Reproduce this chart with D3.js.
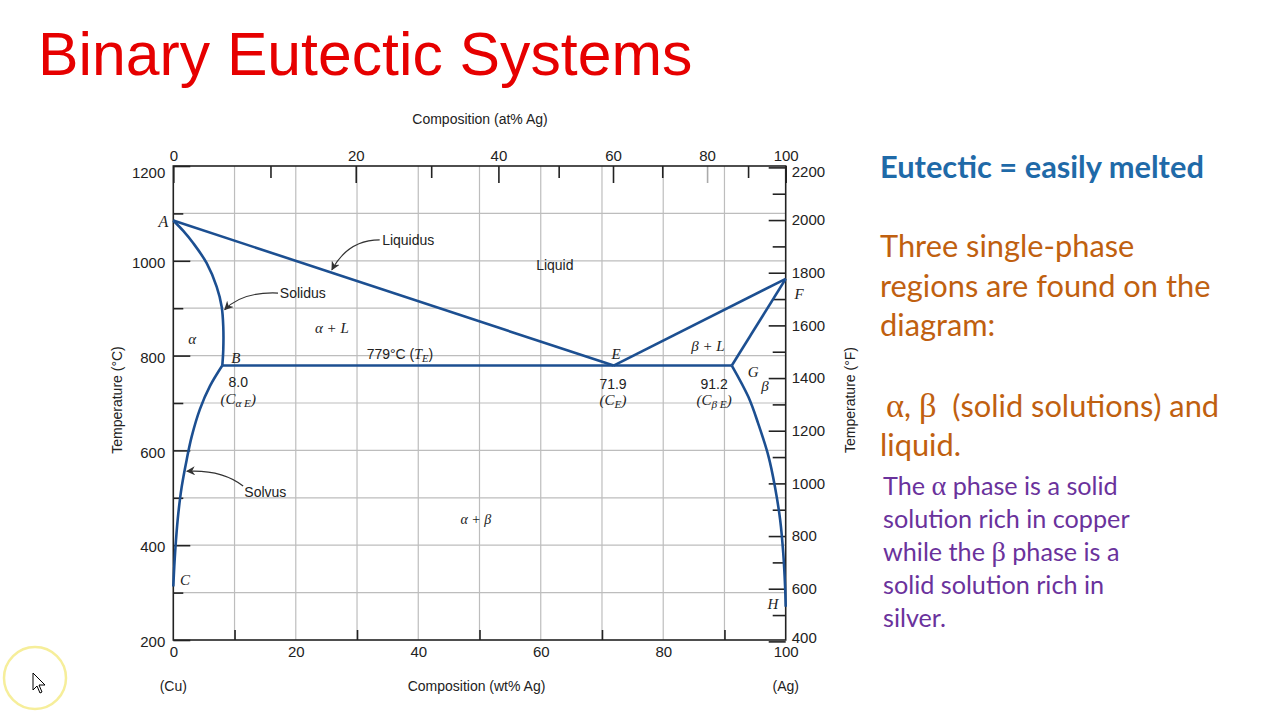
<!DOCTYPE html>
<html>
<head>
<meta charset="utf-8">
<script src="https://cdn.jsdelivr.net/npm/d3@7"></script>
<style>
  body { margin: 0; background: #fff; }
  svg { display: block; }
</style>
</head>
<body>
<script>
// phase boundaries, [wt% Ag, temperature °C]
const liquidusAlpha = [[0, 1085], [71.9, 779]];
const liquidusBeta = [[71.9, 779], [100, 962]];
const solidusAlpha = [[0, 1085], [1.63, 1063], [3.27, 1037], [5.45, 995], [7.09, 945], [7.9, 903],
  [8.16, 861], [8.16, 812], [8.0, 779]];
const solvusAlpha = [[8.0, 779], [6.0, 736], [4.35, 687], [3.0, 629], [2.18, 580], [1.37, 523],
  [0.82, 467], [0.44, 411], [0.16, 355], [0.0, 313]];
const solidusBeta = [[91.2, 779], [100, 962]];
const solvusBeta = [[91.2, 779], [93.9, 713], [95.5, 657], [97.2, 587], [98.25, 523], [99.1, 453],
  [99.6, 383], [99.9, 313], [100, 270]];
const eutectic = [[8.0, 779], [91.2, 779]];

// axis ticks
const wtLabels = [0, 20, 40, 60, 80, 100];
const wtMinor = [10, 30, 50, 70, 90];
const atMajor = [0, 20, 40, 60, 80, 100];
const atMinor = [10, 30, 50, 70, 90];
const tempCLabels = [200, 400, 600, 800, 1000, 1200];
const tempCMinor = [300, 500, 700, 900, 1100];
const tempFLabels = [400, 600, 800, 1000, 1200, 1400, 1600, 1800, 2000, 2200];
const tempFMinor = [500, 700, 900, 1100, 1300, 1500, 1700, 1900, 2100];

const noteLines1 = ['Three single-phase', 'regions are found on the', 'diagram:'];
const noteLines3 = ['The \u03b1 phase is a solid', 'solution rich in copper', 'while the \u03b2 phase is a',
  'solid solution rich in', 'silver.'];

const width = 1280, height = 720;
const blue = '#1c4f91';
const sans = '"Liberation Sans", Arial, sans-serif';
const serif = '"Liberation Serif", "Times New Roman", serif';

const svg = d3.select('body').append('svg')
  .attr('width', width)
  .attr('height', height);

svg.append('rect').attr('width', width).attr('height', height).attr('fill', '#fff');

// title
svg.append('text')
  .attr('x', 38).attr('y', 75)
  .attr('font-family', sans)
  .attr('font-size', 60.7)
  .attr('fill', '#e60000')
  .text('Binary Eutectic Systems');

// scales
let x = d3.scaleLinear().domain([0, 100]).range([173.3, 785.7]);
let y = d3.scaleLinear().domain([200, 1200]).range([640, 166]);
// °F axis shares the °C range
let yF = d3.scaleLinear().domain([200 * 9 / 5 + 32, 1200 * 9 / 5 + 32]).range([643.5, 169.5]);
// at% Ag -> wt% Ag (Ag 107.87, Cu 63.55)
const atToWt = a => 100 * a * 107.87 / (a * 107.87 + (100 - a) * 63.55);

let plot = svg.append('g');

//grid
plot.append('g')
  .selectAll('line')
  .data(d3.range(10, 100, 10))
  .join('line')
  .attr('x1', d => x(d)).attr('x2', d => x(d))
  .attr('y1', y(200)).attr('y2', y(1200))
  .attr('stroke', '#bdbdbd').attr('stroke-width', 1.2);

plot.append('g')
  .selectAll('line')
  .data(d3.range(300, 1200, 100))
  .join('line')
  .attr('x1', x(0)).attr('x2', x(100))
  .attr('y1', d => y(d)).attr('y2', d => y(d))
  .attr('stroke', '#bdbdbd').attr('stroke-width', 1.2);

function styleAxis(g) {
  g.select('.domain').remove();
  g.selectAll('line').attr('stroke', '#222').attr('stroke-width', 1.6);
  g.selectAll('text').attr('font-family', sans).attr('font-size', 15).attr('fill', '#222');
}
const fmt = d3.format('d');

//left axis (°C)
plot.append('g').attr('transform', `translate(${x(0)},0)`)
  .call(d3.axisLeft(y).tickValues(tempCLabels).tickSize(-17).tickPadding(8).tickFormat(fmt))
  .call(styleAxis)
  .call(g => g.selectAll('.tick text').attr('dy', d => d === 1200 ? '0.75em' : '0.45em'));
plot.append('g').attr('transform', `translate(${x(0)},0)`)
  .call(d3.axisLeft(y).tickValues(tempCMinor).tickSize(-10).tickFormat(''))
  .call(styleAxis);

//right axis (°F)
plot.append('g').attr('transform', `translate(${x(100)},0)`)
  .call(d3.axisRight(yF).tickValues(tempFLabels).tickSize(-17).tickPadding(6).tickFormat(fmt))
  .call(styleAxis)
  .call(g => g.selectAll('.tick').filter(d => d === 2200).select('text').attr('dy', '0.6em'))
  .call(g => g.selectAll('.tick').filter(d => d === 400).select('text').attr('dy', '0.05em'));
plot.append('g').attr('transform', `translate(${x(100)},0)`)
  .call(d3.axisRight(yF).tickValues(tempFMinor).tickSize(-13).tickFormat(''))
  .call(styleAxis);

//bottom axis (wt%)
plot.append('g').attr('transform', `translate(0,${y(200)})`)
  .call(d3.axisBottom(x).tickValues(wtLabels).tickSize(0).tickPadding(6).tickFormat(fmt))
  .call(styleAxis);
plot.append('g').attr('transform', `translate(0,${y(200)})`)
  .call(d3.axisBottom(x).tickValues(wtMinor).tickSize(-10).tickFormat(''))
  .call(styleAxis);

//top axis (at%)
plot.append('g').attr('transform', `translate(0,${y(1200)})`)
  .call(d3.axisTop(x).tickValues(atMajor.map(atToWt)).tickSize(-17).tickPadding(5)
    .tickFormat((d, i) => atMajor[i]))
  .call(styleAxis)
  .call(g => g.selectAll('.tick').filter((d, i) => atMajor[i] === 80).select('line').attr('stroke', '#aaa'));
plot.append('g').attr('transform', `translate(0,${y(1200)})`)
  .call(d3.axisTop(x).tickValues(atMinor.map(atToWt)).tickSize(-12).tickFormat(''))
  .call(styleAxis);

// frame
plot.append('rect')
  .attr('x', x(0)).attr('y', y(1200))
  .attr('width', x(100) - x(0)).attr('height', y(200) - y(1200))
  .attr('fill', 'none').attr('stroke', '#222').attr('stroke-width', 1.6);

// axis titles
const axisText = (tx, ty, txt, rot) => plot.append('text')
  .attr('transform', `translate(${tx},${ty})` + (rot ? ` rotate(${rot})` : ''))
  .attr('text-anchor', 'middle')
  .attr('dominant-baseline', 'central')
  .attr('font-family', sans).attr('font-size', 14).attr('fill', '#222')
  .text(txt);
axisText((x(0) + x(100)) / 2 + 0.5, 119, 'Composition (at% Ag)');
axisText((x(0) + x(100)) / 2 - 3, 686, 'Composition (wt% Ag)');
axisText(x(0), 686, '(Cu)');
axisText(x(100), 686, '(Ag)');
axisText(117, 400, 'Temperature (\u00b0C)', -90);
axisText(850, 400, 'Temperature (\u00b0F)', -90);

// phase boundaries
let line = d3.line().x(d => x(d[0])).y(d => y(d[1]));
let curve = d3.line().x(d => x(d[0])).y(d => y(d[1])).curve(d3.curveCatmullRom.alpha(0.5));

plot.append('g')
  .selectAll('path')
  .data([liquidusAlpha, liquidusBeta, solidusBeta, eutectic])
  .join('path')
  .attr('d', line)
  .attr('fill', 'none').attr('stroke', blue).attr('stroke-width', 2.6);

plot.append('g')
  .selectAll('path')
  .data([solidusAlpha, solvusAlpha, solvusBeta])
  .join('path')
  .attr('d', curve)
  .attr('fill', 'none').attr('stroke', blue).attr('stroke-width', 2.6);

// leader arrows
svg.append('defs').append('marker')
  .attr('id', 'head')
  .attr('viewBox', '0 0 10 10')
  .attr('refX', 9).attr('refY', 5)
  .attr('markerWidth', 9).attr('markerHeight', 9)
  .attr('markerUnits', 'userSpaceOnUse')
  .attr('orient', 'auto')
  .append('path').attr('d', 'M0,0 L10,5 L0,10 L3,5 Z').attr('fill', '#333');

const leader = pts => {
  let p = pts.map(d => [x(d[0]), y(d[1])]);
  plot.append('path')
    .attr('d', `M${p[0]} C${p[1]} ${p[2]} ${p[3]}`)
    .attr('fill', 'none').attr('stroke', '#333').attr('stroke-width', 1.2)
    .attr('marker-end', 'url(#head)');
};
leader([[33.7, 1044], [29.8, 1044], [27.5, 1019], [25.9, 981]]);
leader([[17.1, 932], [13.3, 934], [10.2, 921], [8.4, 897]]);
leader([[11.4, 525], [9.3, 546], [6.3, 559], [2.2, 556]]);

// labels
const label = (wt, t, anchor, parts, size) => {
  let tx = plot.append('text')
    .attr('x', x(wt)).attr('y', y(t))
    .attr('text-anchor', anchor)
    .attr('font-size', size || 14)
    .attr('fill', '#222');
  parts.forEach(p => {
    let s = tx.append('tspan').text(p.t)
      .attr('font-family', p.i ? serif : sans)
      .attr('font-style', p.i ? 'italic' : 'normal');
    if (p.sub) s.attr('font-size', '0.75em').attr('baseline-shift', '-25%');
  });
};
const it = t => ({ t, i: true });
const rm = t => ({ t });
const sub = t => ({ t, i: true, sub: true });

label(-0.8, 1072, 'end', [it('A')], 16);
label(34.1, 1033, 'start', [rm('Liquidus')]);
label(17.4, 921.5, 'start', [rm('Solidus')]);
label(62.3, 980.6, 'middle', [rm('Liquid')]);
label(3.1, 824, 'middle', [it('\u03b1')], 15);
label(25.9, 847.6, 'middle', [it('\u03b1 + L')], 15);
label(10.2, 784, 'middle', [it('B')], 15);
label(37, 793, 'middle', [rm('779\u00b0C ('), it('T'), sub('E'), rm(')')]);
label(10.6, 733.8, 'middle', [rm('8.0')]);
label(10.6, 698, 'middle', [it('(C'), sub('\u03b1 E'), it(')')], 15);
label(72.3, 793, 'middle', [it('E')], 15);
label(71.8, 729.5, 'middle', [rm('71.9')]);
label(71.8, 696, 'middle', [it('(C'), sub('E'), it(')')], 15);
label(87.3, 809.7, 'middle', [it('\u03b2 + L')], 15);
label(94.7, 754.9, 'middle', [it('G')], 15);
label(96.6, 725, 'middle', [it('\u03b2')], 15);
label(88.3, 729.5, 'middle', [rm('91.2')]);
label(88.3, 696, 'middle', [it('(C'), sub('\u03b2 E'), it(')')], 15);
label(102.2, 919, 'middle', [it('F')], 15);
label(11.6, 501.7, 'start', [rm('Solvus')]);
label(49.4, 444.7, 'middle', [it('\u03b1 + \u03b2')], 14);
label(1.9, 316, 'middle', [it('C')], 15);
label(97.9, 265, 'middle', [it('H')], 15);

// notes on the right
const lato = 'Lato, "Open Sans", sans-serif';
svg.append('text')
  .attr('x', 880).attr('y', 178)
  .attr('font-family', lato).attr('font-weight', 'bold').attr('font-size', 30.8)
  .attr('fill', '#1f6aa8')
  .text('Eutectic = easily melted');

svg.append('g').selectAll('text')
  .data(noteLines1)
  .join('text')
  .attr('x', 880).attr('y', (d, i) => 257 + i * 39.5)
  .attr('font-family', lato).attr('font-size', 30.8).attr('fill', '#c0600f')
  .text(d => d);

// greek letters are set in a serif face, split on them
const greekSplit = (sel, txt) => {
  txt.split(/([\u03b1\u03b2])/).forEach(part => {
    if (!part) return;
    let isGreek = /[\u03b1\u03b2]/.test(part);
    sel.append('tspan')
      .attr('font-family', isGreek ? serif : lato)
      .attr('font-size', isGreek ? '1.12em' : null)
      .text(part);
  });
};

let orange2 = svg.append('text')
  .attr('x', 886).attr('y', 417)
  .attr('font-family', lato).attr('font-size', 30.8).attr('fill', '#c0600f')
  .attr('xml:space', 'preserve');
greekSplit(orange2, '\u03b1, \u03b2  (solid solutions) and');
svg.append('text')
  .attr('x', 880).attr('y', 455.5)
  .attr('font-family', lato).attr('font-size', 30.8).attr('fill', '#c0600f')
  .text('liquid.');

svg.append('g').selectAll('text')
  .data(noteLines3)
  .join('text')
  .attr('x', 883).attr('y', (d, i) => 495 + i * 33)
  .attr('font-family', lato).attr('font-size', 25.2).attr('fill', '#6a329c')
  .each(function (d) { greekSplit(d3.select(this), d); });

// pointer highlight
svg.append('circle')
  .attr('cx', 35).attr('cy', 678).attr('r', 31)
  .attr('fill', 'none').attr('stroke', '#f6ee9a').attr('stroke-width', 2.5);
svg.append('path')
  .attr('d', 'M33,673 L33,690 L37,686 L40,693 L42,692 L39,685 L45,685 Z')
  .attr('fill', '#fff').attr('stroke', '#000').attr('stroke-width', 1);
</script>
</body>
</html>
